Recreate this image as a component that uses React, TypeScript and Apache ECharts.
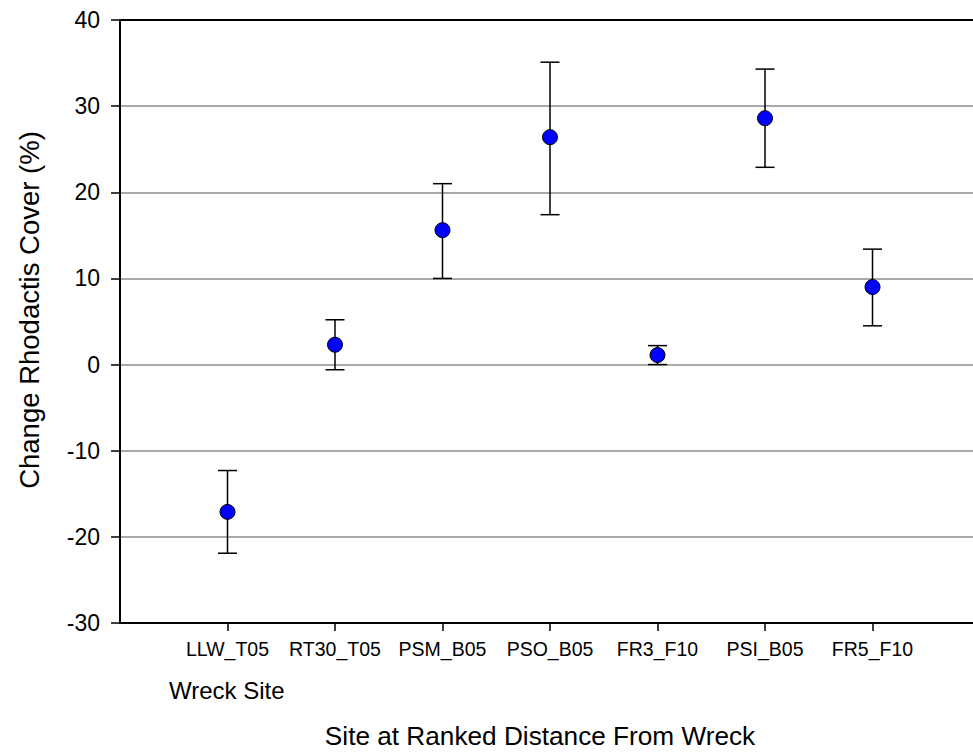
import React, { useEffect, useRef } from "react";
import * as echarts from "echarts";

const sites = ["LLW_T05", "RT30_T05", "PSM_B05", "PSO_B05", "FR3_F10", "PSI_B05", "FR5_F10"];
const means = [-17.1, 2.3, 15.6, 26.4, 1.1, 28.6, 9.0];
const upper = [-12.3, 5.2, 21.0, 35.1, 2.2, 34.3, 13.4];
const lower = [-21.9, -0.6, 10.0, 17.4, 0.0, 22.9, 4.5];
const yTicks = [-30, -20, -10, 0, 10, 20, 30, 40];

const FONT = "'Liberation Sans', Arial, sans-serif";

export default function App() {
  const ref = useRef<HTMLDivElement>(null);
  useEffect(() => {
    if (!ref.current) return;
    const chart = echarts.init(ref.current, undefined, { renderer: "svg" });
    const axisData = ["", ...sites, ""];
    const scatterData = means.map((m, i) => [i + 1, m]);
    const errData = sites.map((_, i) => [i + 1, lower[i], upper[i]]);
    chart.setOption({
      animation: false,
      backgroundColor: "#ffffff",
      grid: { left: 120, right: 0, top: 20, bottom: 132, containLabel: false },
      xAxis: [
        {
          type: "category",
          data: axisData,
          boundaryGap: false,
          position: "bottom",
          axisLine: { show: true, onZero: false, lineStyle: { color: "#000", width: 2 } },
          axisTick: {
            show: true,
            length: 8,
            interval: (idx: number) => idx >= 1 && idx <= sites.length,
            lineStyle: { color: "#000", width: 1.5 },
          },
          axisLabel: {
            show: true,
            interval: 0,
            margin: 16,
            fontFamily: FONT,
            fontSize: 19.5,
            color: "#000",
          },
          splitLine: { show: false },
        },
        {
          type: "category",
          data: axisData,
          boundaryGap: false,
          position: "top",
          axisLine: { show: true, onZero: false, lineStyle: { color: "#000", width: 2 } },
          axisTick: { show: false },
          axisLabel: { show: false },
          splitLine: { show: false },
        },
      ],
      yAxis: {
        type: "value",
        min: yTicks[0],
        max: yTicks[yTicks.length - 1],
        interval: 10,
        axisLine: { show: true, onZero: false, lineStyle: { color: "#000", width: 2 } },
        axisTick: { show: true, length: 9, lineStyle: { color: "#000", width: 1.5 } },
        axisLabel: { margin: 20, fontFamily: FONT, fontSize: 23, color: "#000" },
        splitLine: { show: true, lineStyle: { color: "#8c8c8c", width: 1.5 } },
      },
      graphic: [
        {
          type: "text",
          x: 29,
          y: 310,
          rotation: Math.PI / 2,
          style: {
            text: "Change Rhodactis Cover (%)",
            fontFamily: FONT,
            fontSize: 27.5,
            fill: "#000",
            textAlign: "center",
            textVerticalAlign: "middle",
          },
        },
        {
          type: "text",
          x: 540,
          y: 736,
          style: {
            text: "Site at Ranked Distance From Wreck",
            fontFamily: FONT,
            fontSize: 26.2,
            fill: "#000",
            textAlign: "center",
            textVerticalAlign: "middle",
          },
        },
        {
          type: "text",
          x: 169,
          y: 690,
          style: {
            text: "Wreck Site",
            fontFamily: FONT,
            fontSize: 24,
            fill: "#000",
            textAlign: "left",
            textVerticalAlign: "middle",
          },
        },
      ],
      series: [
        {
          type: "custom",
          xAxisIndex: 0,
          yAxisIndex: 0,
          z: 2,
          data: errData,
          renderItem: (params: any, api: any) => {
            const x = api.value(0);
            const lo = api.coord([x, api.value(1)]);
            const hi = api.coord([x, api.value(2)]);
            const hw = 9.5;
            const style = { stroke: "#000", lineWidth: 1.5 };
            return {
              type: "group",
              children: [
                { type: "line", shape: { x1: lo[0], y1: lo[1], x2: hi[0], y2: hi[1] }, style },
                { type: "line", shape: { x1: hi[0] - hw, y1: hi[1], x2: hi[0] + hw, y2: hi[1] }, style },
                { type: "line", shape: { x1: lo[0] - hw, y1: lo[1], x2: lo[0] + hw, y2: lo[1] }, style },
              ],
            };
          },
        },
        {
          type: "scatter",
          xAxisIndex: 0,
          yAxisIndex: 0,
          z: 3,
          symbol: "circle",
          symbolSize: 15,
          itemStyle: { color: "#0000ff", borderColor: "#000", borderWidth: 1, opacity: 1 },
          data: scatterData,
        },
      ],
    });
    return () => chart.dispose();
  }, []);
  return (
    <div
      style={{
        position: "absolute",
        left: 0,
        top: 0,
        width: 973,
        height: 755,
        overflow: "hidden",
      }}
    >
      <div ref={ref} style={{ width: 983, height: 755 }} />
    </div>
  );
}
